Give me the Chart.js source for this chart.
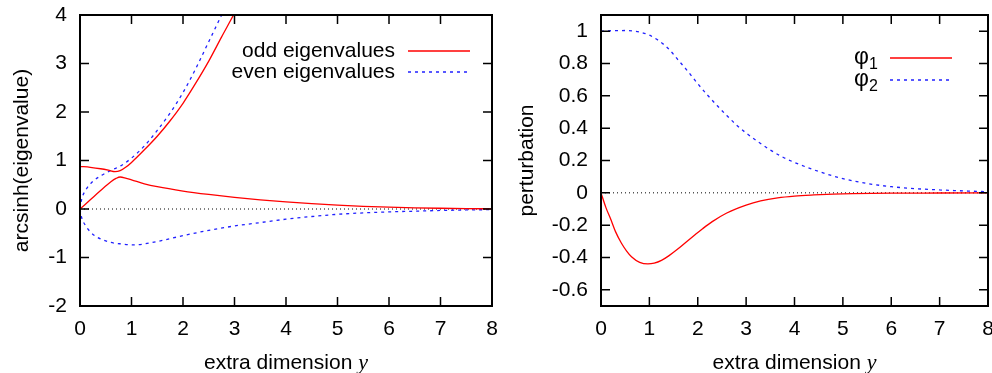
<!DOCTYPE html>
<html>
<head>
<meta charset="utf-8">
<script src="https://cdn.jsdelivr.net/npm/chart.js@4.4.1/dist/chart.umd.min.js"></script>
<style>
  html, body { margin: 0; padding: 0; background: #fff; overflow: hidden; }
  #wrap { position: relative; width: 992px; height: 373px; }
  canvas { position: absolute; top: 0; }
  #left { left: 0; }
  #right { left: 496px; }
</style>
</head>
<body>
<div id="wrap">
  <canvas id="left" width="505" height="373"></canvas>
  <canvas id="right" width="510" height="373"></canvas>
</div>
<script>
// ---- left panel: arcsinh(eigenvalue) vs y ----
const oddUpperX = [0, 0.2, 0.4, 0.55, 0.68, 0.78, 0.9, 1.0, 1.25, 1.5, 1.75, 2.0, 2.25, 2.5, 2.75, 3.0, 3.1];
const oddUpperY = [0.88, 0.86, 0.83, 0.80, 0.77, 0.79, 0.87, 0.96, 1.22, 1.5, 1.82, 2.18, 2.6, 3.05, 3.55, 4.04, 4.25];

const oddLowerX = [0, 0.2, 0.4, 0.6, 0.7, 0.78, 0.9, 1.0, 1.25, 1.5, 2.0, 2.5, 3.0, 3.5, 4.0, 4.5, 5.0, 5.5, 6.0, 6.5, 7.0, 7.5, 8.0];
const oddLowerY = [0, 0.19, 0.38, 0.56, 0.63, 0.66, 0.63, 0.6, 0.52, 0.46, 0.37, 0.30, 0.24, 0.19, 0.145, 0.11, 0.08, 0.055, 0.037, 0.024, 0.015, 0.008, 0.004];

const evenUpperX = [0, 0.03, 0.11, 0.24, 0.43, 0.63, 0.79, 1.0, 1.25, 1.5, 1.75, 2.0, 2.25, 2.5, 2.75, 2.85];
const evenUpperY = [0, 0.19, 0.39, 0.56, 0.70, 0.81, 0.89, 1.05, 1.3, 1.62, 1.98, 2.4, 2.9, 3.45, 4.0, 4.22];

const evenLowerX = [0, 0.03, 0.1, 0.2, 0.3, 0.43, 0.6, 0.8, 1.05, 1.25, 1.5, 2.0, 2.5, 3.0, 3.5, 4.0, 4.5, 5.0, 5.5, 6.0, 6.5, 7.0, 7.5, 8.0];
const evenLowerY = [0, -0.17, -0.33, -0.47, -0.56, -0.63, -0.69, -0.72, -0.74, -0.72, -0.67, -0.55, -0.44, -0.35, -0.28, -0.21, -0.155, -0.11, -0.08, -0.06, -0.045, -0.03, -0.02, -0.012];

// ---- right panel: perturbation vs y ----
const phi1X = [0, 0.1, 0.21, 0.3, 0.42, 0.53, 0.63, 0.8, 0.97, 1.1, 1.25, 1.4, 1.6, 1.8, 1.95, 2.1, 2.3, 2.6, 3.0, 3.3, 3.65, 4.0, 4.4, 4.8, 5.2, 6, 7, 8];
const phi1Y = [0, -0.09, -0.17, -0.24, -0.31, -0.36, -0.395, -0.43, -0.44, -0.435, -0.418, -0.39, -0.345, -0.295, -0.258, -0.222, -0.178, -0.125, -0.076, -0.05, -0.031, -0.02, -0.013, -0.008, -0.005, -0.002, -0.001, 0];

const phi2X = [0, 0.25, 0.5, 0.79, 1.0, 1.2, 1.4, 1.6, 1.8, 2.0, 2.2, 2.4, 2.6, 2.8, 3.0, 3.25, 3.5, 3.75, 4.0, 4.5, 5.0, 5.5, 6.0, 6.5, 7.0, 7.5, 8.0];
const phi2Y = [1.0, 1.003, 1.004, 0.995, 0.975, 0.94, 0.89, 0.82, 0.75, 0.675, 0.605, 0.54, 0.478, 0.42, 0.37, 0.315, 0.265, 0.222, 0.188, 0.132, 0.088, 0.058, 0.038, 0.026, 0.018, 0.012, 0.007];

const zeroX = [0, 8];
const zeroY = [0, 0];

const xTicks = [0, 1, 2, 3, 4, 5, 6, 7, 8];
const leftYTicks = [-2, -1, 0, 1, 2, 3, 4];
const rightYTicks = [-0.6, -0.4, -0.2, 0, 0.2, 0.4, 0.6, 0.8, 1];

const RED = '#ff0000';
const BLUE = '#2020ff';
const FONT = "'Liberation Sans', Arial, sans-serif";

function pts(xs, ys) {
  return xs.map((x, i) => ({ x: x, y: ys[i] }));
}

function curve(xs, ys, color, dashed) {
  return {
    data: pts(xs, ys),
    borderColor: color,
    borderWidth: 1.3,
    borderDash: dashed ? [3, 4] : [],
    pointRadius: 0,
    showLine: true,
    cubicInterpolationMode: 'monotone',
    fill: false
  };
}

// frame, inward ticks on all sides, axis titles and legend
const gnuFrame = {
  id: 'gnuFrame',
  afterDatasetsDraw(chart, args, opts) {
    const { ctx, chartArea: a, scales } = chart;
    ctx.save();
    ctx.strokeStyle = '#000';
    ctx.lineWidth = 1.5;
    ctx.beginPath();
    scales.x.ticks.forEach(t => {
      const px = scales.x.getPixelForValue(t.value);
      if (px <= a.left + 1 || px >= a.right - 1) return;
      ctx.moveTo(px, a.bottom); ctx.lineTo(px, a.bottom - 9);
      ctx.moveTo(px, a.top); ctx.lineTo(px, a.top + 9);
    });
    scales.y.ticks.forEach(t => {
      const py = scales.y.getPixelForValue(t.value);
      if (py <= a.top + 1 || py >= a.bottom - 1) return;
      ctx.moveTo(a.left, py); ctx.lineTo(a.left + 9, py);
      ctx.moveTo(a.right, py); ctx.lineTo(a.right - 9, py);
    });
    ctx.stroke();
    ctx.lineWidth = 2;
    ctx.strokeRect(a.left, a.top, a.right - a.left, a.bottom - a.top);

    // x title with italic y
    ctx.fillStyle = '#000';
    ctx.textBaseline = 'alphabetic';
    ctx.textAlign = 'left';
    const part1 = 'extra dimension ';
    ctx.font = '21px ' + FONT;
    const w1 = ctx.measureText(part1).width;
    ctx.font = "italic 22px 'Liberation Serif', serif";
    const w2 = ctx.measureText('y').width;
    const cx = (a.left + a.right) / 2;
    const x0 = cx - (w1 + w2) / 2;
    ctx.font = '21px ' + FONT;
    ctx.fillText(part1, x0, 369);
    ctx.font = "italic 22px 'Liberation Serif', serif";
    ctx.fillText('y', x0 + w1, 369);

    // y title
    ctx.save();
    ctx.translate(opts.yTitleX, (a.top + a.bottom) / 2);
    ctx.rotate(-Math.PI / 2);
    ctx.font = '21px ' + FONT;
    ctx.textAlign = 'center';
    ctx.textBaseline = 'middle';
    ctx.fillText(opts.yTitle, 0, 0);
    ctx.restore();

    // legend
    opts.legend.forEach(item => {
      ctx.strokeStyle = item.color;
      ctx.lineWidth = 1.3;
      ctx.setLineDash(item.dash);
      ctx.beginPath();
      ctx.moveTo(item.x1, item.y);
      ctx.lineTo(item.x2, item.y);
      ctx.stroke();
      ctx.setLineDash([]);
      ctx.fillStyle = '#000';
      ctx.textBaseline = 'middle';
      if (item.sub) {
        ctx.textAlign = 'left';
        ctx.font = '23px ' + FONT;
        ctx.fillText(item.text, item.tx, item.y);
        const w = ctx.measureText(item.text).width;
        ctx.font = '16px ' + FONT;
        ctx.fillText(item.sub, item.tx + w, item.y + 7);
      } else {
        ctx.textAlign = 'right';
        ctx.font = '21px ' + FONT;
        ctx.fillText(item.text, item.tx, item.y);
      }
    });
    ctx.restore();
  }
};

function makeOptions(yMin, yMax, yTickVals, yWidth, padRight, frameOpts) {
  return {
    responsive: false,
    animation: false,
    devicePixelRatio: 1,
    layout: { padding: { top: 15, right: padRight, bottom: 0, left: 0 } },
    plugins: {
      legend: { display: false },
      tooltip: { enabled: false },
      gnuFrame: frameOpts
    },
    scales: {
      x: {
        type: 'linear',
        min: 0, max: 8,
        afterBuildTicks: s => { s.ticks = xTicks.map(v => ({ value: v })); },
        afterFit: s => { s.height = 67; s.paddingLeft = 0; s.paddingRight = 0; },
        grid: { display: false, drawTicks: false },
        border: { display: false },
        ticks: {
          color: '#000',
          padding: 11,
          font: { family: FONT, size: 21 },
          maxRotation: 0,
          callback: v => String(v)
        }
      },
      y: {
        type: 'linear',
        min: yMin, max: yMax,
        afterBuildTicks: s => { s.ticks = yTickVals.map(v => ({ value: v })); },
        afterFit: s => { s.width = yWidth; s.paddingTop = 0; s.paddingBottom = 0; },
        grid: { display: false, drawTicks: false },
        border: { display: false },
        ticks: {
          color: '#000',
          padding: 13,
          font: { family: FONT, size: 21 },
          callback: v => String(v)
        }
      }
    }
  };
}

const zeroLine = {
  data: pts(zeroX, zeroY),
  borderColor: '#000',
  borderWidth: 1,
  borderDash: [1, 3],
  pointRadius: 0,
  showLine: true
};

new Chart(document.getElementById('left'), {
  type: 'scatter',
  data: {
    datasets: [
      curve(oddUpperX, oddUpperY, RED, false),
      curve(oddLowerX, oddLowerY, RED, false),
      curve(evenUpperX, evenUpperY, BLUE, true),
      curve(evenLowerX, evenLowerY, BLUE, true),
      zeroLine
    ]
  },
  options: makeOptions(-2, 4, leftYTicks, 80, 13, {
    yTitle: 'arcsinh(eigenvalue)',
    yTitleX: 22,
    legend: [
      { text: 'odd eigenvalues', tx: 395, y: 51, x1: 408, x2: 470, color: RED, dash: [] },
      { text: 'even eigenvalues', tx: 395, y: 72, x1: 408, x2: 470, color: BLUE, dash: [3, 4] }
    ]
  }),
  plugins: [gnuFrame]
});

new Chart(document.getElementById('right'), {
  type: 'scatter',
  data: {
    datasets: [
      curve(phi1X, phi1Y, RED, false),
      curve(phi2X, phi2Y, BLUE, true),
      Object.assign({}, zeroLine, { data: pts(zeroX, zeroY) })
    ]
  },
  options: makeOptions(-0.7, 1.1, rightYTicks, 105, 18, {
    yTitle: 'perturbation',
    yTitleX: 31,
    legend: [
      { text: 'φ', sub: '1', tx: 358, y: 58, x1: 394, x2: 456, color: RED, dash: [] },
      { text: 'φ', sub: '2', tx: 358, y: 80, x1: 394, x2: 456, color: BLUE, dash: [3, 4] }
    ]
  }),
  plugins: [gnuFrame]
});
</script>
</body>
</html>
